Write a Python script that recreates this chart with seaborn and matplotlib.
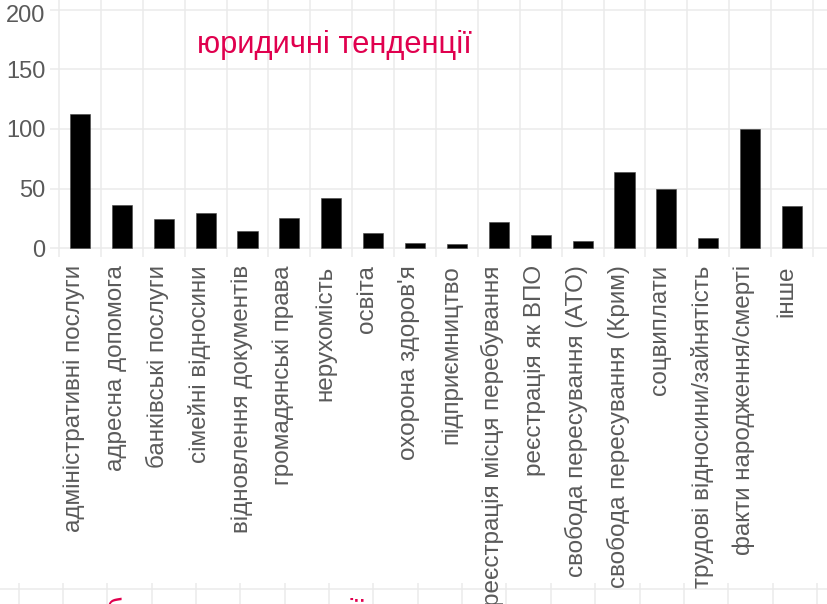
import matplotlib
matplotlib.use("Agg")
import matplotlib.pyplot as plt
import matplotlib.transforms as mtransforms
import seaborn as sns
import pandas as pd
import numpy as np

categories = [
    "адміністративні послуги", "адресна допомога", "банківські послуги",
    "сімейні відносини", "відновлення документів", "громадянські права",
    "нерухомість", "освіта", "охорона здоров'я", "підприємництво",
    "реєстрація місця перебування", "реєстрація як ВПО",
    "свобода пересування (АТО)", "свобода пересування (Крим)", "соцвиплати",
    "трудові відносини/зайнятість", "факти народження/смерті", "інше",
]
values = [113, 36, 24, 29, 14, 25, 42, 13, 4, 3, 22, 11, 6, 64, 50, 8, 100, 35]
y_ticks = [0, 50, 100, 150, 200]
title_text = "юридичні тенденції"
next_title_text = "брак документації"

W, H = 828, 604
sns.set_theme(style="white")
plt.rcParams["font.family"] = ["Liberation Sans", "DejaVu Sans"]

fig = plt.figure(figsize=(W / 100, H / 100), dpi=100)
fig.patch.set_facecolor("white")

grid_col = "#EBEBEB"
text_col = "#5A5A5A"
red = "#E0004E"

# lower (cut-off) chart: only its grid is visible
ax2 = fig.add_axes([0, 0, 1, 21 / H], zorder=0)
ax2.set_xlim(-0.42, 18.25)
ax2.set_ylim(0, 1)
ax2.set_xticks(range(19))
ax2.set_yticks([15 / 21])
ax2.grid(True, color=grid_col, linewidth=1.1)
ax2.tick_params(length=0, labelbottom=False, labelleft=False)
for s in ax2.spines.values():
    s.set_visible(False)
ax2.set_facecolor("none")

# main chart
ax = fig.add_axes([50 / W, (H - 257) / H, 1 - 50 / W, 257 / H], zorder=2)
ax.set_facecolor("none")
df = pd.DataFrame({"category": categories, "value": values})
sns.barplot(data=df, x="category", y="value", order=categories, color="black",
            saturation=1, width=0.48, errorbar=None, ax=ax, zorder=3,
            edgecolor="#444444", linewidth=0.4)

ax.set_xlim(-0.716, 17.86)
ax.set_ylim(-7.56, 208.4)
ax.set_yticks(y_ticks)
ax.set_yticklabels([str(v) for v in y_ticks])
ax.set_xticks(range(len(categories)))
ax.set_xticklabels(categories, rotation=90, ha="center", va="top")
ax.set_xticks(np.arange(-0.5, len(categories), 1.0), minor=True)
ax.grid(False)
ax.yaxis.grid(True, color=grid_col, linewidth=1.1, zorder=0)
ax.xaxis.grid(True, which="minor", color=grid_col, linewidth=1.1, zorder=0)
ax.set_axisbelow(True)
ax.set_xlabel("")
ax.set_ylabel("")
for s in ax.spines.values():
    s.set_visible(False)
ax.tick_params(axis="both", which="both", length=0)
ax.tick_params(axis="y", labelsize=17, labelcolor=text_col, pad=3.5)
ax.tick_params(axis="x", labelsize=17.5, labelcolor=text_col, pad=6)

offset = mtransforms.ScaledTranslation(-6 / 100, 0, fig.dpi_scale_trans)
for lab in ax.get_xticklabels():
    lab.set_transform(lab.get_transform() + offset)

# the top label sits slightly lower in the reference (page crop)
top_lab = ax.get_yticklabels()[-1]
top_lab.set_transform(top_lab.get_transform() +
                      mtransforms.ScaledTranslation(0, -4 / 100, fig.dpi_scale_trans))

fig.text(197 / W, 1 - 53 / H, title_text, color=red, fontsize=22.2,
         ha="left", va="baseline")
fig.text(106 / W, 1 - 598 / H, next_title_text, color=red, fontsize=22.2,
         ha="left", va="top")

fig.savefig("out.png", dpi=100, facecolor="white")
